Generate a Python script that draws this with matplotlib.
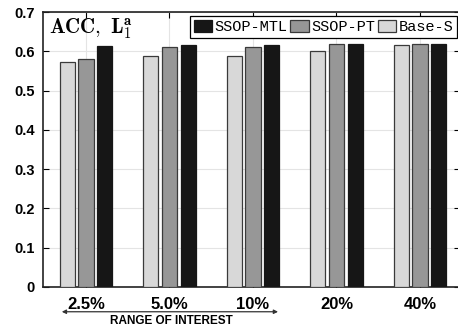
import numpy as np
import matplotlib
matplotlib.use("Agg")
import matplotlib.pyplot as plt

plt.rcParams['mathtext.fontset'] = 'cm'

groups = ['2.5%', '5.0%', '10%', '20%', '40%']
base_s = [0.573, 0.587, 0.589, 0.602, 0.615]
ssop_pt = [0.580, 0.612, 0.612, 0.618, 0.619]
ssop_mtl = [0.613, 0.617, 0.617, 0.618, 0.619]

fig = plt.figure(figsize=(4.58, 3.32), dpi=100)
ax = fig.add_axes([43 / 458, 45 / 332, 417 / 458, 275 / 332])

x = np.arange(1, len(groups) + 1)
w = 0.18
step = 0.222
ax.bar(x - step, base_s, w, color='#d8d8d8', edgecolor='#3a3a3a', linewidth=0.9, label='Base-S', zorder=3)
ax.bar(x, ssop_pt, w, color='#979797', edgecolor='#3a3a3a', linewidth=0.9, label='SSOP-PT', zorder=3)
ax.bar(x + step, ssop_mtl, w, color='#161616', edgecolor='#161616', linewidth=0.9, label='SSOP-MTL', zorder=3)

ax.set_xlim(1 - 43 / 83.5, 5 + 40 / 83.5)
ax.set_ylim(0, 0.7)
ax.set_xticks(x)
ax.set_xticklabels(groups, fontsize=12, fontweight='bold', family='Liberation Sans')
ax.set_yticks(np.arange(0, 0.71, 0.1))
ax.set_yticklabels(['0'] + ['%.1f' % v for v in np.arange(0.1, 0.71, 0.1)],
                   fontsize=10.5, fontweight='bold', family='Liberation Sans')
ax.tick_params(direction='in', length=4, width=0.8, top=True, right=True, pad=6)
ax.tick_params(axis='x', pad=7)
ax.grid(True, color='#e4e4e4', linewidth=0.8, zorder=0)
for s in ax.spines.values():
    s.set_linewidth(1.2)
    s.set_color('#222222')

ax.text(0.014, 0.985, r'$\mathbf{ACC,\ L_1^a}$', transform=ax.transAxes,
        fontsize=15, va='top', ha='left')

h, l = ax.get_legend_handles_labels()
leg = ax.legend(h[::-1], l[::-1], ncol=3, loc='upper right',
                bbox_to_anchor=(457 / 458, 1 - 16 / 332), bbox_transform=fig.transFigure,
                borderaxespad=0, frameon=True, fancybox=False, framealpha=1,
                edgecolor='black', prop={'family': 'Liberation Mono', 'size': 11},
                handlelength=1.2, handleheight=0.8, handletextpad=0.15,
                columnspacing=0.2, borderpad=0.25)
leg.get_frame().set_linewidth(0.9)

# double arrow marking the range of interest under the first three groups
trans = ax.get_xaxis_transform()
ax.annotate('', xy=(0.71, -0.09), xytext=(3.30, -0.09), xycoords=trans, textcoords=trans,
            arrowprops=dict(arrowstyle='<|-|>', color='#333333', lw=0.9,
                            mutation_scale=6, shrinkA=0, shrinkB=0),
            annotation_clip=False)
ax.text(2.02, -0.125, 'RANGE OF INTEREST', transform=trans, ha='center', va='center',
        fontsize=8.5, fontweight='bold', family='Liberation Sans')

fig.savefig('out.png', dpi=100)
